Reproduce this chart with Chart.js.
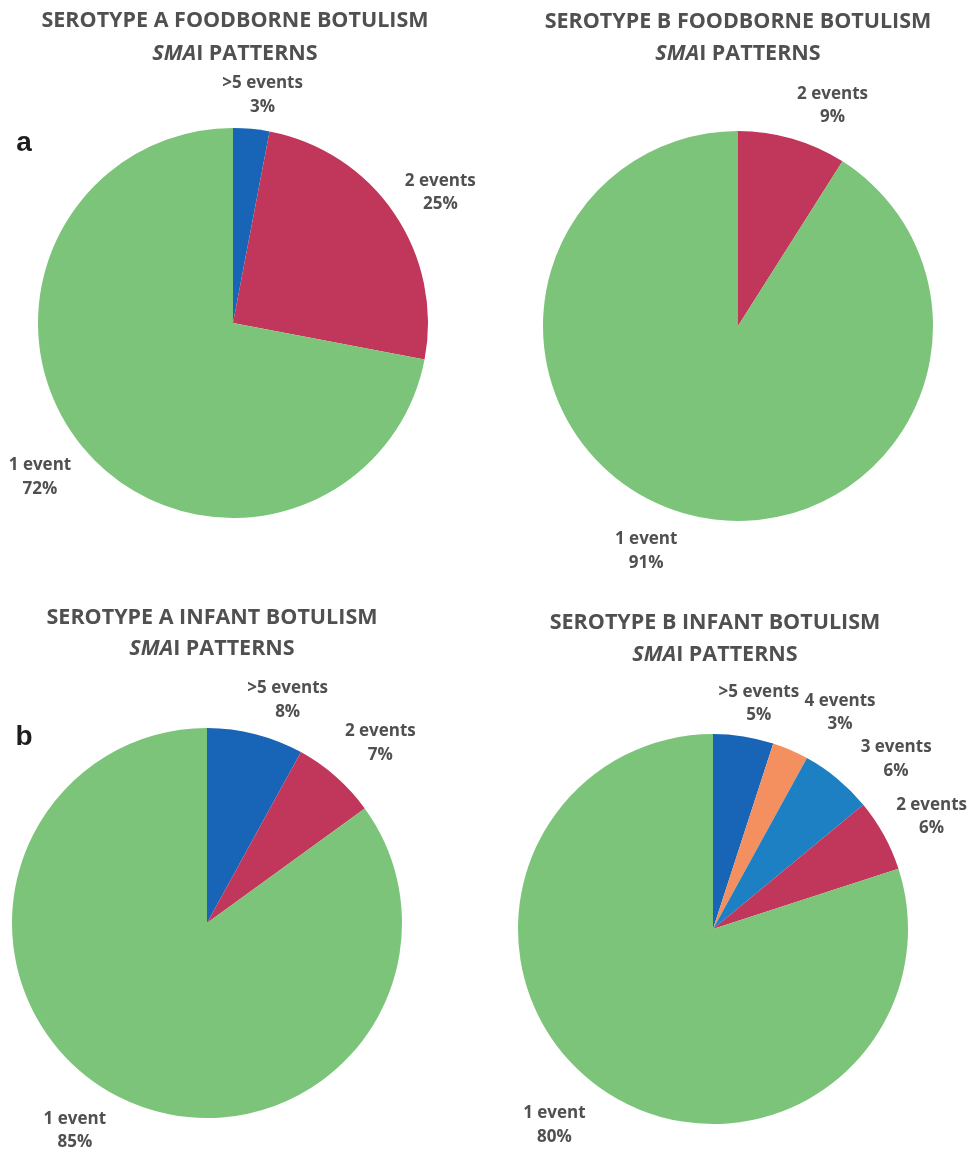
<!DOCTYPE html>
<html>
<head>
<meta charset="utf-8">
<script src="https://cdn.jsdelivr.net/npm/chart.js@4.4.1/dist/chart.umd.min.js"></script>
<style>
  html, body { margin: 0; padding: 0; background: #ffffff; }
  #wrap { position: relative; width: 972px; height: 1153px; overflow: hidden; }
  .cell { position: absolute; }
</style>
</head>
<body>
<div id="wrap"></div>
<script>
// Share of SMAI patterns (%) in each panel
const categoriesFoodA = ['>5 events', '2 events', '1 event'];
const valuesFoodA = [3, 25, 72];

const categoriesFoodB = ['2 events', '1 event'];
const valuesFoodB = [9, 91];

const categoriesInfantA = ['>5 events', '2 events', '1 event'];
const valuesInfantA = [8, 7, 85];

const categoriesInfantB = ['>5 events', '4 events', '3 events', '2 events', '1 event'];
const valuesInfantB = [5, 3, 6, 6, 80];

const titleFoodA = 'SEROTYPE A FOODBORNE BOTULISM';
const titleFoodB = 'SEROTYPE B FOODBORNE BOTULISM';
const titleInfantA = 'SEROTYPE A INFANT BOTULISM';
const titleInfantB = 'SEROTYPE B INFANT BOTULISM';

// colour for each event-count category
const categoryColors = {
  '>5 events': '#1864b6',
  '4 events': '#f4905f',
  '3 events': '#1c80c3',
  '2 events': '#c0375b',
  '1 event':  '#7cc47a'
};

const FONT = '"Open Sans", "DejaVu Sans", sans-serif';
const TEXT_COLOR = '#505050';
const TITLE_SIZE = 21.5;
const LABEL_SIZE = 17;

// panel layout: canvas box, pie centre/radius (canvas-local), title placement,
// and per-label polar nudges [degrees, px beyond the rim]
const panels = [
  {
    labels: categoriesFoodA, values: valuesFoodA, title: titleFoodA,
    box: [0, 0, 486, 576], cx: 233, cy: 323, r: 195,
    titleX: 235, titleY: [21, 54], letter: 'a', letterPos: [24, 143],
    nudges: [[2, 35], [2, 50], [1, 52]]
  },
  {
    labels: categoriesFoodB, values: valuesFoodB, title: titleFoodB,
    box: [486, 0, 486, 576], cx: 252, cy: 326, r: 195,
    titleX: 252, titleY: [22, 54],
    nudges: [[7, 45], [6, 48]]
  },
  {
    labels: categoriesInfantA, values: valuesInfantA, title: titleInfantA,
    box: [0, 576, 486, 577], cx: 207, cy: 347, r: 195,
    titleX: 212, titleY: [42, 73], letter: 'b', letterPos: [24, 161],
    nudges: [[5.5, 42], [2.5, 55], [5.5, 51]]
  },
  {
    labels: categoriesInfantB, values: valuesInfantB, title: titleInfantB,
    box: [486, 576, 486, 577], cx: 227, cy: 353, r: 195,
    titleX: 229, titleY: [47, 79],
    nudges: [[2.5, 35], [7, 56], [7.5, 55], [1.5, 51], [3, 57]]
  }
];

// titles, panel letters and slice labels
const annotatePlugin = {
  id: 'annotate',
  afterDraw(chart, args, opts) {
    const p = opts.panel;
    const ctx = chart.ctx;
    const titleFont = 'bold ' + TITLE_SIZE + 'px ' + FONT;
    const titleItalic = 'italic bold ' + TITLE_SIZE + 'px ' + FONT;
    ctx.save();
    ctx.fillStyle = TEXT_COLOR;
    ctx.textBaseline = 'middle';

    // title line 1
    ctx.font = titleFont;
    ctx.textAlign = 'center';
    ctx.fillText(p.title, p.titleX, p.titleY[0]);

    // title line 2: italic "SMA" + upright "I PATTERNS"
    const part1 = 'SMA';
    const part2 = 'I PATTERNS';
    ctx.font = titleItalic;
    const w1 = ctx.measureText(part1).width;
    ctx.font = titleFont;
    const w2 = ctx.measureText(part2).width;
    const x0 = p.titleX - (w1 + w2) / 2;
    ctx.textAlign = 'left';
    ctx.font = titleItalic;
    ctx.fillText(part1, x0, p.titleY[1]);
    ctx.font = titleFont;
    ctx.fillText(part2, x0 + w1, p.titleY[1]);

    // panel letter
    if (p.letter) {
      ctx.fillStyle = '#1e1e1e';
      ctx.font = 'bold 28px "Liberation Sans", Arial, sans-serif';
      ctx.textAlign = 'center';
      ctx.fillText(p.letter, p.letterPos[0], p.letterPos[1]);
    }

    // slice labels, anchored to each arc's mid angle
    ctx.fillStyle = TEXT_COLOR;
    ctx.font = 'bold ' + LABEL_SIZE + 'px ' + FONT;
    ctx.textAlign = 'center';
    const meta = chart.getDatasetMeta(0);
    meta.data.forEach((arc, i) => {
      const n = p.nudges[i] || [0, 45];
      const mid = (arc.startAngle + arc.endAngle) / 2 + n[0] * Math.PI / 180;
      const rr = arc.outerRadius + n[1];
      const x = arc.x + Math.cos(mid) * rr;
      const y = arc.y + Math.sin(mid) * rr;
      ctx.fillText(chart.data.labels[i], x, y - 11.5);
      ctx.fillText(chart.data.datasets[0].data[i] + '%', x, y + 12);
    });
    ctx.restore();
  }
};

const wrap = document.getElementById('wrap');
panels.forEach((p) => {
  const [bx, by, bw, bh] = p.box;
  const div = document.createElement('div');
  div.className = 'cell';
  div.style.left = bx + 'px';
  div.style.top = by + 'px';
  div.style.width = bw + 'px';
  div.style.height = bh + 'px';
  const canvas = document.createElement('canvas');
  div.appendChild(canvas);
  wrap.appendChild(div);

  new Chart(canvas, {
    type: 'pie',
    data: {
      labels: p.labels,
      datasets: [{
        data: p.values,
        backgroundColor: p.labels.map((l) => categoryColors[l]),
        borderWidth: 0
      }]
    },
    options: {
      responsive: true,
      maintainAspectRatio: false,
      animation: false,
      layout: {
        padding: {
          left: p.cx - p.r,
          top: p.cy - p.r,
          right: bw - (p.cx + p.r),
          bottom: bh - (p.cy + p.r)
        }
      },
      plugins: {
        legend: { display: false },
        tooltip: { enabled: false },
        annotate: { panel: p }
      }
    },
    plugins: [annotatePlugin]
  });
});
</script>
</body>
</html>
